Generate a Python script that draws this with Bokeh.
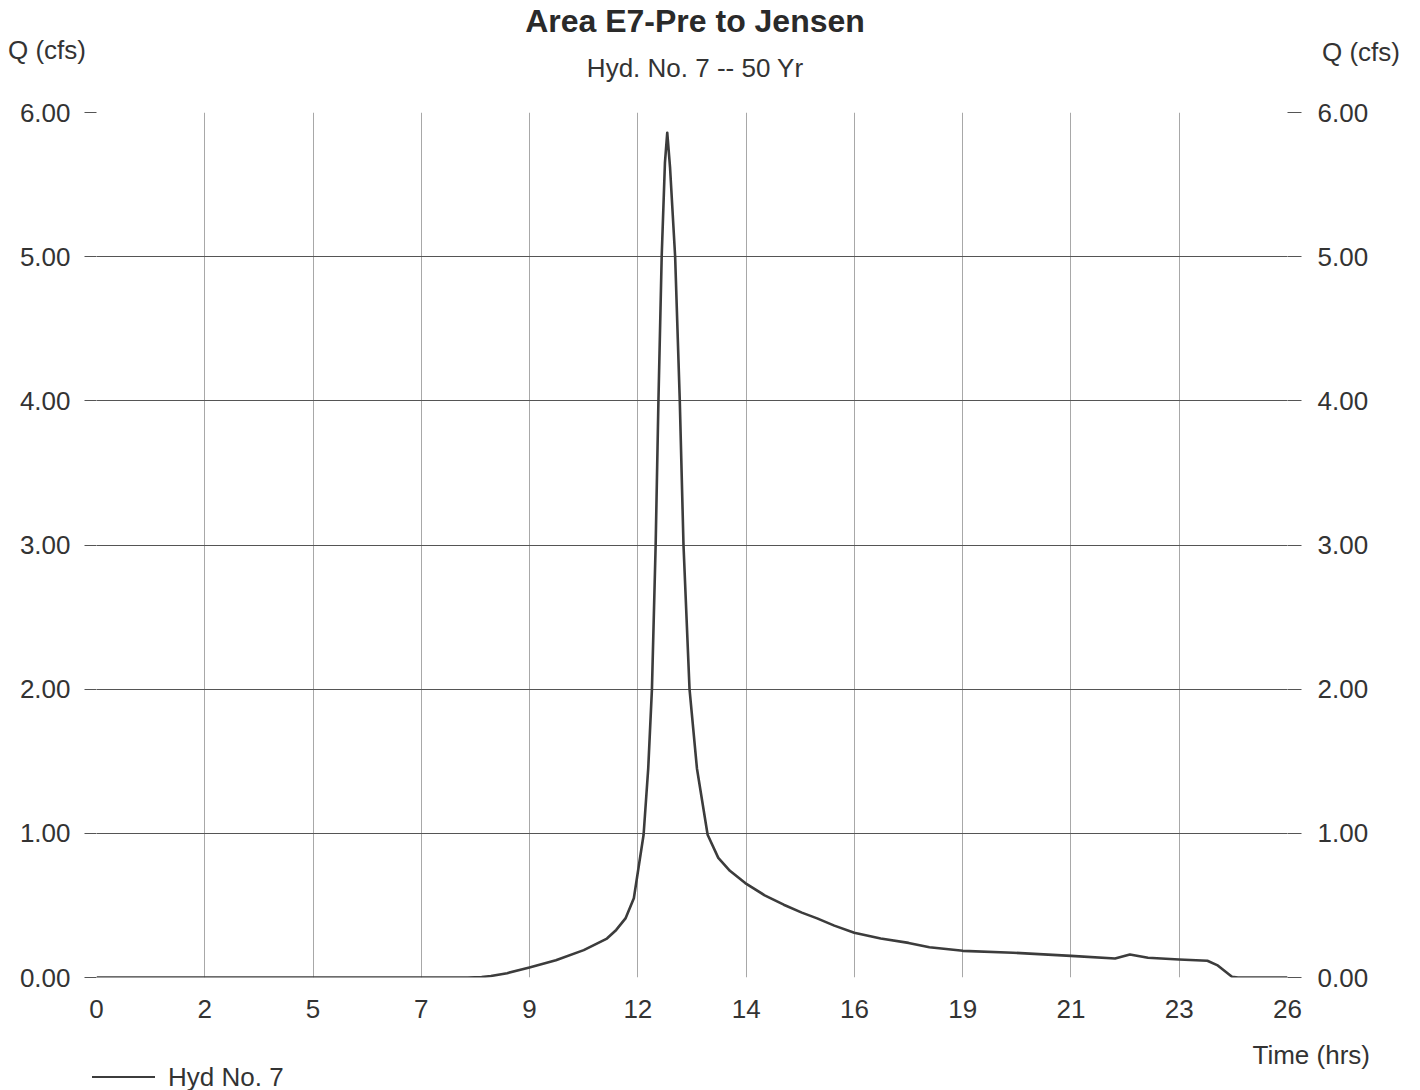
from bokeh.plotting import figure
from bokeh.layouts import column
from bokeh.models import (Range1d, FixedTicker, LinearAxis, Div,
                          PrintfTickFormatter, ColumnDataSource)
from bokeh.embed import file_html
from bokeh.resources import INLINE

# ---- data ----
time_hrs = [0.0, 4.0, 8.0, 8.3, 8.5, 8.85, 9.33, 9.9, 10.5, 11.0, 11.2, 11.4,
            11.58, 11.68, 11.79, 11.89, 11.97, 12.05, 12.11, 12.18, 12.25, 12.30,
            12.36, 12.47, 12.57, 12.65, 12.78, 12.94, 13.17, 13.40, 13.65, 13.98,
            14.4, 14.81, 15.2, 15.53, 15.9, 16.33, 16.9, 17.5, 17.95, 18.67, 19.75,
            21.0, 21.95, 22.27, 22.66, 23.33, 23.94, 24.15, 24.47, 24.6, 25.67]
flow_cfs = [0.0, 0.0, 0.0, 0.003, 0.01, 0.03, 0.07, 0.12, 0.19, 0.27, 0.33, 0.41,
            0.55, 0.76, 0.99, 1.45, 2.0, 3.0, 4.0, 5.0, 5.65, 5.86,
            5.62, 5.0, 4.0, 3.0, 2.0, 1.45, 0.99, 0.83, 0.74, 0.655,
            0.57, 0.505, 0.45, 0.41, 0.36, 0.31, 0.27, 0.24, 0.21, 0.185, 0.172,
            0.15, 0.132, 0.16, 0.137, 0.125, 0.116, 0.086, 0.005, 0.0, 0.0]

x_tick_hours = [0, 7/3, 14/3, 7, 28/3, 35/3, 14, 49/3, 56/3, 21, 70/3, 77/3]
x_tick_labels = ["0", "2", "5", "7", "9", "12", "14", "16", "19", "21", "23", "26"]
y_ticks = [0, 1, 2, 3, 4, 5, 6]

title_text = "Area E7-Pre to Jensen"
subtitle_text = "Hyd. No. 7 -- 50 Yr"
y_title = "Q (cfs)"
x_title = "Time (hrs)"
series_name = "Hyd No. 7"

# ---- layout ----
W = 1420
HEAD_H = 90
MAIN_H = 945
FOOT_H = 55
F_L, F_R = 96, 1287
TOP_PAD, BOT_PAD = 22, 58
XMAX = x_tick_hours[-1]
YMAX = 6.0
FONT = "Liberation Sans"
FS = "26px"
TXT = "#333333"
LINE_COLOR = "#3c3c3c"


def span(text, left=None, right=None, cy=0, width=None, align="left",
         size=26, weight="normal", color=TXT):
    pos = []
    if left is not None:
        pos.append(f"left:{left}px")
    if right is not None:
        pos.append(f"right:{right}px")
    if width is not None:
        pos.append(f"width:{width}px")
    return (f"<div style=\"position:absolute;{';'.join(pos)};top:{cy - size // 2 - 2}px;"
            f"height:{size + 4}px;line-height:{size + 4}px;text-align:{align};"
            f"font-family:'{FONT}';font-size:{size}px;font-weight:{weight};"
            f"color:{color};white-space:nowrap;\">{text}</div>")


def box(h, inner):
    return (f"<div style=\"position:relative;width:{W}px;height:{h}px;"
            f"margin:0;padding:0;overflow:visible;\">{inner}</div>")


head_html = box(HEAD_H,
                span(title_text, left=395, width=600, cy=21, align="center",
                     size=32, weight="bold", color="#2a2a2a")
                + span(subtitle_text, left=445, width=500, cy=68, align="center")
                + span(y_title, left=8, cy=50)
                + span(y_title, left=1322, cy=52))
head = Div(text=head_html, width=W, height=HEAD_H, margin=(0, 0, 0, 0))

# main chart
p = figure(width=W, height=MAIN_H, output_backend="svg", toolbar_location=None,
           x_range=Range1d(0, XMAX), y_range=Range1d(0, YMAX),
           min_border_left=F_L, min_border_right=W - F_R,
           min_border_top=TOP_PAD, min_border_bottom=BOT_PAD,
           x_axis_location=None, y_axis_location=None)
p.outline_line_color = None
p.background_fill_color = "white"
p.border_fill_color = "white"

xaxis = LinearAxis(ticker=FixedTicker(ticks=x_tick_hours),
                   major_label_overrides={t: l for t, l in zip(x_tick_hours, x_tick_labels)})
xaxis.axis_line_color = None
xaxis.major_tick_line_color = None
xaxis.minor_tick_line_color = None
xaxis.major_label_standoff = 16
xaxis.major_label_text_font = FONT
xaxis.major_label_text_font_size = FS
xaxis.major_label_text_color = TXT
p.add_layout(xaxis, "below")

for side, standoff, tick_out in (("left", 14, 12), ("right", 16, 14)):
    ax = LinearAxis(ticker=FixedTicker(ticks=y_ticks),
                    formatter=PrintfTickFormatter(format="%.2f"))
    ax.axis_line_color = None
    ax.major_tick_line_color = "#555555"
    ax.major_tick_in = 0
    ax.major_tick_out = tick_out
    ax.minor_tick_line_color = None
    ax.major_label_standoff = standoff
    ax.major_label_text_font = FONT
    ax.major_label_text_font_size = FS
    ax.major_label_text_color = TXT
    p.add_layout(ax, side)

p.xgrid.ticker = FixedTicker(ticks=x_tick_hours)
p.ygrid.ticker = FixedTicker(ticks=y_ticks)
p.xgrid.grid_line_color = "#a8a8a8"
p.xgrid.grid_line_width = 1
p.ygrid.grid_line_color = "#555555"
p.ygrid.grid_line_width = 1

src = ColumnDataSource(dict(t=time_hrs, q=flow_cfs))
p.line("t", "q", source=src, line_color=LINE_COLOR, line_width=2.6,
       line_join="round")

# footer: axis title + legend
FOOT_TOP = HEAD_H + MAIN_H
leg_cy = 1077 - FOOT_TOP
swatch = (f"<div style=\"position:absolute;left:92px;top:{leg_cy - 1}px;width:63px;"
          f"height:0;border-top:2px solid {LINE_COLOR};\"></div>")
foot_html = box(FOOT_H,
                span(x_title, right=W - 1370, cy=1055 - FOOT_TOP)
                + swatch
                + span(series_name, left=168, cy=leg_cy))
foot = Div(text=foot_html, width=W, height=FOOT_H, margin=(0, 0, 0, 0))

layout = column(head, p, foot, spacing=0)
open("out.html", "w").write(file_html(layout, INLINE))
